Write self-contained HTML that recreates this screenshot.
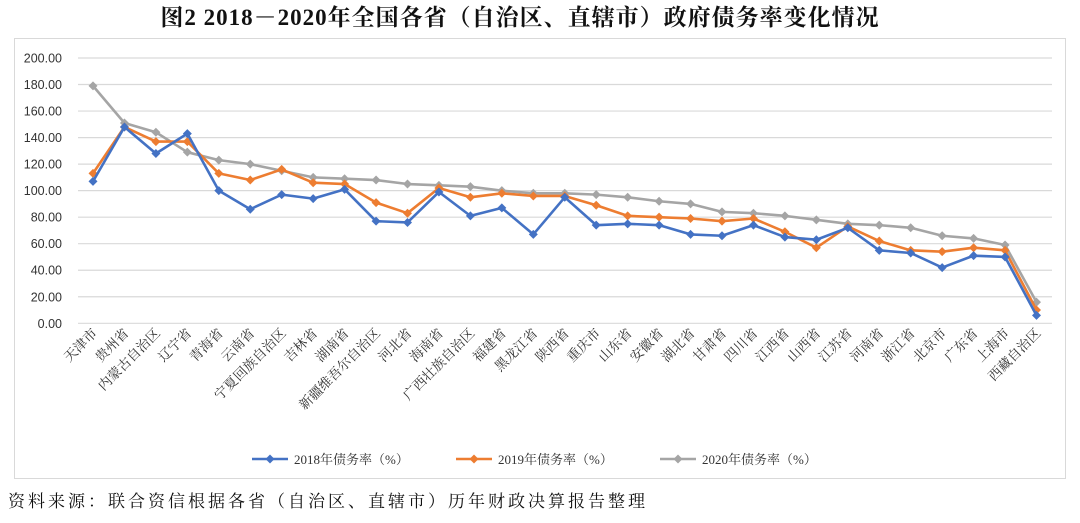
<!DOCTYPE html>
<html><head><meta charset="utf-8"><style>
body{margin:0;width:1080px;height:518px;background:#fff;overflow:hidden;font-family:"Liberation Serif","Noto Serif CJK SC",serif;}
</style></head><body>
<svg id="s" width="1080" height="518" xmlns="http://www.w3.org/2000/svg">
<text x="520" y="25" text-anchor="middle" font-size="23" letter-spacing="1" font-weight="bold" font-family="Liberation Serif, Noto Serif CJK SC, serif" fill="#111">图2  2018－2020年全国各省（自治区、直辖市）政府债务率变化情况</text>
<rect x="14.5" y="38.5" width="1051" height="440" fill="none" stroke="#d9d9d9"/>
<text x="8" y="507" font-size="17" letter-spacing="3" font-family="Liberation Serif, Noto Serif CJK SC, serif" fill="#111">资料来源：联合资信根据各省（自治区、直辖市）历年财政决算报告整理</text>
<g id="g"></g>
</svg>
<script>
const ns="http://www.w3.org/2000/svg",g=document.getElementById('g');
function el(t,a,txt){const e=document.createElementNS(ns,t);for(const k in a)e.setAttribute(k,a[k]);if(txt!=null)e.textContent=txt;g.appendChild(e);return e;}
const y0=323.3,k=265.3/200;
for(let v=0;v<=200;v+=20){const y=y0-v*k;el('line',{x1:78,x2:1052,y1:y,y2:y,stroke:'#d9d9d9','stroke-width':1.2});
el('text',{x:62,y:y+4.5,'text-anchor':'end','font-size':12.5,fill:'#333','font-family':'Liberation Sans, sans-serif'},v.toFixed(2));}
const names=["天津市","贵州省","内蒙古自治区","辽宁省","青海省","云南省","宁夏回族自治区","吉林省","湖南省","新疆维吾尔自治区","河北省","海南省","广西壮族自治区","福建省","黑龙江省","陕西省","重庆市","山东省","安徽省","湖北省","甘肃省","四川省","江西省","山西省","江苏省","河南省","浙江省","北京市","广东省","上海市","西藏自治区"];
const d=[
{c:'#a5a5a5',v:[179,151,144,129,123,120,115,110,109,108,105,104,103,100,98,98,97,95,92,90,84,83,81,78,75,74,72,66,64,59,16]},
{c:'#ed7d31',v:[113,148,137,137,113,108,116,106,105,91,83,102,95,98,96,96,89,81,80,79,77,79,69,57,73,62,55,54,57,55,10]},
{c:'#4472c4',v:[107,148,128,143,100,86,97,94,101,77,76,99,81,87,67,95,74,75,74,67,66,74,65,63,72,55,53,42,51,50,6]}];
const X=i=>93+i*31.45;
d.forEach(s=>{const p=s.v.map((v,i)=>X(i)+','+(y0-v*k)).join(' ');
el('polyline',{points:p,fill:'none',stroke:s.c,'stroke-width':2.6,'stroke-linejoin':'round'});
s.v.forEach((v,i)=>{const x=X(i),y=y0-v*k;el('path',{d:`M${x} ${y-4.5}L${x+4.5} ${y}L${x} ${y+4.5}L${x-4.5} ${y}Z`,fill:s.c});});});
names.forEach((n,i)=>{const x=X(i)+5,y=334;el('text',{x:x,y:y,'text-anchor':'end','font-size':13.5,fill:'#333',transform:`rotate(-45 ${x} ${y})`,'font-family':'Noto Serif CJK SC, serif'},n);});
const lg=[['#4472c4',252,'2018年债务率（%）'],['#ed7d31',456,'2019年债务率（%）'],['#a5a5a5',660,'2020年债务率（%）']];
lg.forEach(([c,x,t])=>{el('line',{x1:x,x2:x+36,y1:459,y2:459,stroke:c,'stroke-width':2.6});
el('path',{d:`M${x+18} 454.5L${x+22.5} 459L${x+18} 463.5L${x+13.5} 459Z`,fill:c});
el('text',{x:x+42,y:464,'font-size':13,fill:'#333','font-family':'Liberation Serif, Noto Serif CJK SC, serif'},t);});
</script>
</body></html>
